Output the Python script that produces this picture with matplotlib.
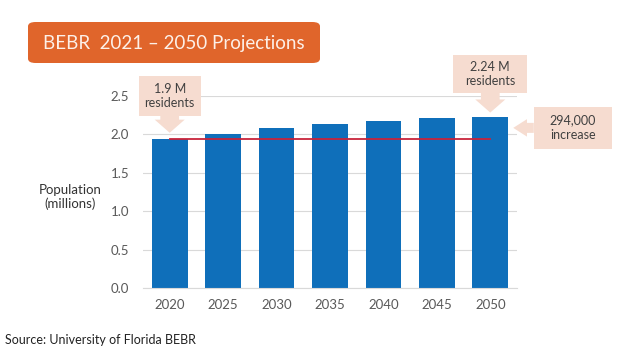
#!/usr/bin/env python3
"""BEBR 2021-2050 population projections bar chart."""

import matplotlib
matplotlib.use("Agg")
import matplotlib.pyplot as plt
from matplotlib.patches import FancyBboxPatch
from matplotlib.path import Path

years = ["2020", "2025", "2030", "2035", "2040", "2045", "2050"]
population = [1.94, 2.01, 2.08, 2.13, 2.18, 2.21, 2.23]
y_ticks = [0.0, 0.5, 1.0, 1.5, 2.0, 2.5]

title = "BEBR  2021 \u2013 2050 Projections"
ylabel = "Population\n(millions)"
source = "Source: University of Florida BEBR"
start_note = "1.9 M\nresidents"
end_note = "2.24 M\nresidents"
increase_note = "294,000\nincrease"

BAR = "#0F6FBA"
ORANGE = "#E0652B"
PEACH = "#F6DCD0"
GRID = "#D9D9D9"
TICK = "#595959"
NOTE = "#404040"

plt.rcParams["font.family"] = ["Lato", "DejaVu Sans"]


def padded_box(padx, pady):
    """Rectangle box style with separate horizontal / vertical padding."""
    def style(x0, y0, width, height, mutation_size):
        px, py = padx * mutation_size, pady * mutation_size
        x1, y1 = x0 - px, y0 - py
        x2, y2 = x0 + width + px, y0 + height + py
        return Path([(x1, y1), (x2, y1), (x2, y2), (x1, y2), (x1, y1)], closed=True)
    return style


def note(ax, text, xy, offset, padx, pady, arrow, shrink):
    ax.annotate(
        text, xy=xy, xytext=offset, textcoords="offset points",
        ha="center", va="center", fontsize=9, color=NOTE, linespacing=1.25,
        bbox=dict(boxstyle=padded_box(padx, pady), fc=PEACH, ec="none"),
        arrowprops=dict(arrowstyle=arrow, fc=PEACH, ec="none", shrinkA=0, shrinkB=shrink),
        annotation_clip=False, zorder=4,
    )


fig = plt.figure(figsize=(6.4, 3.6), dpi=100)
fig.patch.set_facecolor("white")
ax = fig.add_axes([0.2234, 0.2, 0.5844, 0.5333])

x = list(range(len(years)))
ax.bar(x, population, width=0.67, color=BAR, zorder=2)
ax.plot([x[0], x[-1]], [population[0], population[0]], color="#C8233A", lw=1.3, zorder=3)

ax.set_xlim(-0.5, 6.5)
ax.set_ylim(0, 2.5)
ax.set_xticks(x)
ax.set_xticklabels(years)
ax.set_yticks(y_ticks)
ax.set_yticklabels([f"{v:.1f}" for v in y_ticks])
ax.tick_params(length=0, labelsize=9.5, colors=TICK, pad=10)
ax.tick_params(axis="x", pad=8)
ax.grid(axis="y", color=GRID, lw=0.8, zorder=0)
ax.set_axisbelow(True)
for side in ["top", "right", "left"]:
    ax.spines[side].set_visible(False)
ax.spines["bottom"].set_color(GRID)
ax.spines["bottom"].set_linewidth(0.8)

down = "simple,head_length=1.05,head_width=2.4,tail_width=1.5"
left = "simple,head_length=1.1,head_width=1.4,tail_width=0.8"
note(ax, start_note, (x[0], population[0]), (0, 30.8), 0.48, 0.52, down, 4.5)
note(ax, end_note, (x[-1], population[-1]), (0, 30.7), 0.95, 0.45, down, 3)
note(ax, increase_note, (6.43, (population[0] + population[-1]) / 2), (43, 0),
     1.28, 0.65, left, 0)

fig.text(70 / 640, 1 - 197 / 360, ylabel, ha="center", va="center",
         fontsize=9.5, color="#333333", linespacing=1.2)

box = FancyBboxPatch((28 / 640, 1 - 63 / 360), 292 / 640, 41 / 360,
                     boxstyle="round,pad=0,rounding_size=0.012",
                     transform=fig.transFigure, fc=ORANGE, ec="none")
fig.patches.append(box)
fig.text(174 / 640, 1 - 43 / 360, title, ha="center", va="center",
         fontsize=13.5, color="#FDF0E8")

fig.text(5 / 640, 1 - 340 / 360, source, ha="left", va="center",
         fontsize=9, color="#222222")

fig.savefig("out.png", dpi=100)
